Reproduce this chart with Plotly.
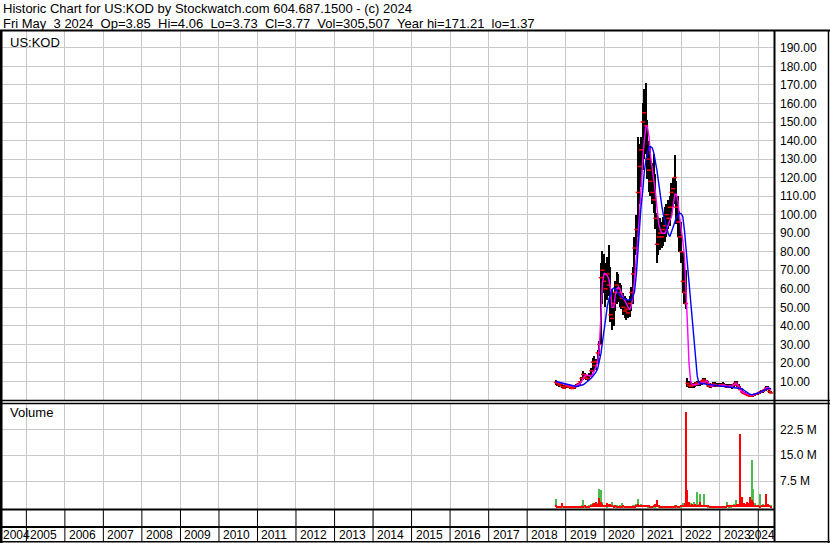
import pandas as pd
import plotly.graph_objects as go

# ---------------- data (semi-monthly samples) ----------------
dates = [d.strftime("%Y-%m-%d") for d in pd.date_range("2018-10-01", "2024-05-01", freq="SMS")]

price_high = [
    10.8, 10.5, 9.8, 9.6, 9.2, 8.2, 8.4, 8.6, 8.4, 7.8, 7.6, 7.4,
    7.8, 8.4, 9.2, 10.4, 12.6, 15.4, 14.8, 13.6, 13.0, 14.6, 17.5, 22.8,
    23.5, 22.0, 27.0, 32.0, 74.0, 80.5, 79.0, 74.0, 77.0, 83.7, 72.0, 60.0,
    58.0, 64.0, 69.3, 68.0, 63.0, 62.0, 58.0, 56.0, 55.0, 54.0, 56.0, 61.0,
    72.0, 88.0, 100.0, 142.0, 138.0, 142.0, 160.0, 168.0, 171.2, 151.0, 140.0, 137.0,
    128.0, 133.0, 122.0, 101.0, 99.0, 98.0, 96.0, 99.0, 104.0, 106.0, 108.0, 110.0,
    117.0, 120.0, 132.0, 118.0, 110.0, 102.0, 96.0, 80.0, 74.0, 70.0, 12.0, 10.5,
    9.5, 9.0, 9.2, 9.8, 10.2, 9.8, 10.0, 11.0, 12.0, 11.8, 11.0, 10.0,
    9.2, 8.8, 9.6, 9.8, 9.4, 9.0, 9.2, 9.4, 9.6, 9.0, 8.6, 8.4,
    8.6, 8.8, 8.6, 9.4, 10.2, 10.0, 8.6, 7.6, 6.0, 5.0, 4.4, 4.0,
    3.6, 3.2, 3.0, 3.4, 3.8, 4.0, 4.2, 4.6, 5.2, 5.6, 6.2, 7.4,
    7.6, 6.0, 4.8,
]
price_low = [
    8.2, 7.8, 7.2, 7.4, 6.6, 5.8, 6.0, 6.6, 6.6, 6.2, 5.8, 5.9,
    6.2, 6.8, 7.2, 8.0, 9.2, 11.0, 11.2, 10.6, 10.2, 11.0, 12.6, 15.2,
    15.8, 16.4, 19.6, 24.0, 30.0, 52.0, 58.0, 50.0, 54.0, 56.0, 42.0, 38.0,
    40.0, 48.0, 52.0, 53.0, 50.0, 49.0, 46.0, 44.0, 43.0, 44.0, 45.0, 48.0,
    52.0, 64.0, 78.0, 88.0, 106.0, 115.0, 124.0, 130.0, 133.0, 119.0, 112.0, 110.0,
    106.0, 101.0, 92.0, 74.0, 78.0, 81.0, 82.0, 83.0, 85.0, 88.0, 92.0, 94.0,
    98.0, 104.0, 106.0, 95.0, 88.0, 80.0, 74.0, 58.0, 52.0, 49.0, 7.0, 6.4,
    6.5, 6.4, 6.6, 7.0, 7.4, 7.6, 7.8, 8.2, 8.6, 8.8, 8.0, 7.0,
    6.6, 6.6, 7.0, 7.2, 7.0, 6.8, 7.0, 7.2, 7.2, 7.0, 6.6, 6.4,
    6.6, 6.6, 6.2, 6.6, 7.6, 7.2, 6.4, 5.2, 3.8, 3.2, 2.8, 2.4,
    2.0, 1.6, 1.4, 1.8, 2.2, 2.6, 2.8, 3.2, 3.6, 4.0, 4.4, 5.0,
    5.2, 4.0, 3.6,
]
price_close = [
    9.5, 8.8, 8.0, 8.6, 7.2, 6.4, 7.6, 7.4, 7.0, 6.8, 6.2, 6.6,
    7.2, 7.8, 8.6, 9.8, 11.6, 13.8, 12.4, 11.8, 11.4, 13.2, 15.8, 20.4,
    18.6, 20.8, 25.4, 30.0, 66.0, 70.0, 64.0, 60.0, 68.0, 62.0, 46.0, 44.0,
    52.0, 58.0, 62.0, 60.0, 58.0, 55.0, 50.0, 48.0, 49.0, 47.0, 52.0, 58.0,
    68.0, 82.0, 92.0, 112.0, 126.0, 135.0, 150.0, 155.0, 148.0, 130.0, 124.0, 118.0,
    112.0, 108.0, 98.0, 84.0, 88.0, 90.0, 88.0, 92.0, 94.0, 100.0, 98.0, 104.0,
    112.0, 114.0, 120.0, 104.0, 96.0, 88.0, 80.0, 64.0, 58.0, 52.0, 9.0, 8.0,
    7.4, 7.8, 8.2, 8.6, 9.2, 8.8, 9.4, 10.2, 10.8, 10.0, 9.0, 7.6,
    7.2, 7.8, 8.6, 8.2, 7.8, 7.6, 8.0, 8.2, 8.4, 7.6, 7.2, 7.0,
    7.4, 7.2, 6.8, 8.4, 9.2, 8.0, 7.0, 5.6, 4.4, 3.6, 3.2, 2.8,
    2.4, 2.0, 2.2, 2.6, 3.2, 3.4, 3.6, 4.2, 4.6, 5.0, 5.6, 6.4,
    5.8, 4.6, 3.8,
]
ma_short = [
    10.0, 9.8, 9.4, 9.2, 9.0, 8.8, 8.6, 8.2, 7.9, 7.6, 7.4, 7.3,
    7.5, 8.0, 8.4, 8.8, 10.0, 11.5, 13.0, 13.6, 13.2, 12.8, 12.7, 14.2,
    16.0, 17.6, 21.0, 28.0, 45.0, 63.0, 68.5, 68.0, 67.0, 65.0, 60.0, 50.0,
    50.0, 56.5, 60.0, 61.0, 59.5, 57.0, 55.0, 53.0, 51.0, 50.0, 48.8, 51.0,
    56.0, 65.0, 75.0, 87.0, 100.0, 115.0, 130.0, 140.0, 148.0, 147.0, 142.0, 132.0,
    125.0, 118.0, 112.0, 104.0, 95.0, 92.0, 90.0, 90.0, 90.0, 92.0, 95.5, 97.0,
    99.0, 104.0, 111.0, 111.0, 107.0, 99.0, 93.0, 86.0, 77.0, 61.0, 40.0, 20.0,
    9.5, 8.4, 8.2, 8.2, 8.4, 8.6, 8.8, 9.0, 9.3, 9.8, 10.3, 9.2,
    7.8, 7.3, 7.8, 8.0, 7.9, 7.8, 7.9, 8.1, 8.2, 8.0, 7.6, 7.4,
    7.5, 7.6, 7.5, 8.2, 9.0, 8.6, 7.2, 5.8, 4.5, 4.0, 3.6, 3.2,
    2.9, 2.6, 2.5, 2.8, 3.1, 3.4, 3.7, 4.0, 4.3, 4.6, 5.4, 6.5,
    6.8, 6.0, 5.2,
]
ma_long = [
    10.0, 9.8, 9.5, 9.2, 8.9, 8.6, 8.3, 8.1, 7.9, 7.7, 7.6, 7.5,
    7.4, 7.3, 7.5, 7.7, 8.0, 8.2, 8.8, 9.4, 10.0, 10.8, 11.8, 12.8,
    14.0, 15.0, 17.0, 20.0, 25.0, 31.0, 38.0, 45.0, 51.0, 54.5, 57.0, 59.5,
    60.4, 60.0, 59.3, 57.5, 56.0, 55.4, 55.0, 54.4, 54.0, 54.0, 54.0, 54.0,
    56.0, 58.5, 68.0, 81.0, 94.0, 104.0, 113.0, 123.0, 130.0, 134.0, 136.5, 136.8,
    136.0, 133.5, 129.0, 124.0, 117.0, 110.0, 104.5, 100.0, 96.0, 91.8, 89.5, 88.2,
    90.5, 93.4, 96.0, 98.6, 100.0, 100.8, 100.5, 99.0, 91.0, 82.0, 71.0, 61.0,
    53.0, 43.0, 32.0, 22.0, 13.0, 9.5, 9.0, 8.8, 8.7, 8.6, 8.6, 8.5,
    8.4, 8.4, 8.3, 8.2, 8.2, 8.0, 7.9, 7.8, 7.6, 7.5, 7.4, 7.3,
    7.2, 7.0, 6.9, 6.8, 6.7, 6.6, 6.5, 6.4, 6.1, 5.4, 4.7, 4.2,
    3.6, 3.1, 2.8, 2.9, 3.2, 3.5, 3.7, 4.2, 4.7, 5.1, 5.5, 5.8,
    6.1, 6.4, 6.0,
]
# volume in millions of shares
vol_up = [
    2.4, 0.5, 0.3, 0.3, 0.3, 0.3, 0.3, 0.3, 0.3, 0.3, 0.3, 0.3,
    0.2, 0.3, 0.4, 0.5, 0.6, 2.2, 0.5, 0.4, 0.5, 0.6, 1.0, 1.2,
    1.0, 0.9, 1.2, 5.3, 5.0, 1.5, 0.8, 0.6, 0.5, 0.7, 0.8, 1.5,
    0.6, 0.5, 0.6, 0.5, 0.6, 1.3, 0.5, 0.4, 0.5, 0.4, 0.5, 0.4,
    0.6, 0.8, 1.0, 2.4, 0.8, 1.0, 0.6, 0.7, 0.6, 0.5, 0.5, 0.4,
    0.5, 0.4, 0.5, 0.6, 0.5, 0.4, 0.5, 0.4, 0.4, 0.4, 0.3, 0.4,
    0.4, 0.4, 0.6, 0.4, 0.3, 0.3, 0.5, 1.3, 0.8, 4.1, 1.5, 1.5,
    1.2, 0.8, 1.5, 1.0, 4.5, 1.0, 3.9, 0.8, 3.9, 0.6, 0.6, 0.5,
    0.5, 0.4, 0.5, 0.4, 0.4, 0.3, 0.4, 0.4, 0.3, 0.3, 0.4, 1.5,
    0.5, 0.5, 0.6, 1.0, 2.2, 0.7, 0.6, 1.2, 0.8, 0.6, 0.6, 0.8,
    1.0, 2.5, 13.5, 5.3, 1.2, 0.8, 0.6, 3.7, 0.6, 1.0, 0.8, 0.9,
    0.7, 0.8, 0.6,
]
vol_down = [
    0.6, 0.4, 0.4, 0.4, 1.1, 0.4, 0.3, 0.3, 0.2, 0.3, 0.3, 0.2,
    0.3, 0.3, 0.3, 0.3, 0.4, 0.5, 0.6, 0.5, 0.4, 0.5, 0.8, 1.0,
    1.2, 1.4, 1.0, 2.6, 1.6, 0.9, 0.6, 0.7, 1.3, 0.9, 1.0, 0.8,
    0.5, 0.6, 0.4, 0.5, 0.5, 0.5, 0.6, 0.5, 0.4, 0.5, 0.4, 0.5,
    0.4, 0.5, 0.8, 0.9, 0.7, 0.6, 0.8, 0.6, 0.7, 0.8, 0.6, 0.5,
    0.5, 0.6, 0.9, 2.2, 0.8, 0.5, 0.4, 0.4, 0.4, 0.3, 0.4, 0.4,
    0.3, 0.4, 0.4, 0.6, 0.5, 0.4, 0.6, 0.8, 1.2, 27.5, 5.0, 1.4,
    0.8, 0.9, 0.7, 1.0, 0.8, 0.7, 1.5, 0.8, 0.7, 0.7, 0.8, 0.7,
    0.5, 0.4, 0.4, 0.5, 0.4, 0.4, 0.3, 0.3, 0.4, 0.3, 0.5, 0.6,
    0.7, 0.6, 0.8, 0.8, 0.7, 0.9, 1.0, 21.2, 3.0, 1.2, 1.0, 1.4,
    1.2, 3.0, 2.0, 1.5, 0.8, 0.7, 0.7, 0.5, 0.8, 0.8, 0.6, 3.7,
    1.0, 0.6, 0.5,
]

price_ticks = [10, 20, 30, 40, 50, 60, 70, 80, 90, 100, 110, 120, 130, 140, 150, 160, 170, 180, 190]
price_tick_text = [f"{v:.2f}" for v in price_ticks]
vol_ticks = [7.5, 15.0, 22.5]
vol_tick_text = ["7.5 M", "15.0 M", "22.5 M"]
year_starts = list(range(2005, 2025))

header1 = "Historic Chart for US:KOD by Stockwatch.com 604.687.1500 - (c) 2024"
header2 = "Fri May  3 2024  Op=3.85  Hi=4.06  Lo=3.73  Cl=3.77  Vol=305,507  Year hi=171.21  lo=1.37"

# ---------------- figure ----------------
W, H = 830, 543
FONT = "Liberation Sans, Arial, sans-serif"
DAY = 86400000


def py(p):
    return 1 - p / H


def px(p):
    return p / W


fig = go.Figure()

price_range = [h - l for h, l in zip(price_high, price_low)]
fig.add_trace(go.Bar(x=dates, y=price_range, base=price_low, width=14 * DAY,
                     marker=dict(color="black", line=dict(width=0)),
                     xaxis="x", yaxis="y", hoverinfo="skip"))
fig.add_trace(go.Scatter(x=dates, y=price_close, mode="markers",
                         marker=dict(symbol="line-ew", size=3, line=dict(color="#ff0000", width=1.5)),
                         xaxis="x", yaxis="y", hoverinfo="skip"))
fig.add_trace(go.Scatter(x=dates, y=ma_short, mode="lines",
                         line=dict(color="#ff00ff", width=1.4), xaxis="x", yaxis="y"))
fig.add_trace(go.Scatter(x=dates, y=ma_long, mode="lines",
                         line=dict(color="#0000ff", width=1.4), xaxis="x", yaxis="y"))

fig.add_trace(go.Bar(x=dates, y=vol_up, width=10 * DAY,
                     marker=dict(color="#4cbb4c", line=dict(width=0)), xaxis="x2", yaxis="y2"))
fig.add_trace(go.Bar(x=dates, y=vol_down, width=10 * DAY,
                     marker=dict(color="#ff0000", line=dict(width=0)), xaxis="x2", yaxis="y2"))

x_range = ["2004-05-15", "2024-05-29"]
grid = "#c8c8c8"
common_x = dict(type="date", range=x_range, domain=[px(2), px(774)], showgrid=True, gridcolor=grid,
                gridwidth=1, tick0="2005-01-01", dtick="M12", showticklabels=False, ticks="",
                zeroline=False, showline=False, fixedrange=True)

shapes = []
# header separator
shapes.append(dict(type="line", xref="paper", yref="paper", x0=0, x1=1, y0=py(30.5), y1=py(30.5),
                   line=dict(color="black", width=2)))
# left border
shapes.append(dict(type="line", xref="paper", yref="paper", x0=px(1), x1=px(1), y0=py(30), y1=py(543),
                   line=dict(color="black", width=3)))
# right border
shapes.append(dict(type="line", xref="paper", yref="paper", x0=px(828.5), x1=px(828.5), y0=py(30), y1=py(543),
                   line=dict(color="black", width=1.5)))
# plot / scale separator
shapes.append(dict(type="line", xref="paper", yref="paper", x0=px(774.5), x1=px(774.5), y0=py(30), y1=py(542),
                   line=dict(color="black", width=2)))
# price / volume double line
for yy in (400.5, 403.5):
    shapes.append(dict(type="line", xref="paper", yref="paper", x0=0, x1=1, y0=py(yy), y1=py(yy),
                       line=dict(color="black", width=1.5)))
# volume bottom, label row separator, bottom border
shapes.append(dict(type="line", xref="paper", yref="paper", x0=0, x1=px(774.5), y0=py(509.5), y1=py(509.5),
                   line=dict(color="black", width=2)))
shapes.append(dict(type="line", xref="paper", yref="paper", x0=0, x1=px(774.5), y0=py(527), y1=py(527),
                   line=dict(color="black", width=2)))
shapes.append(dict(type="line", xref="paper", yref="paper", x0=0, x1=1, y0=py(541.8), y1=py(541.8),
                   line=dict(color="black", width=1.5)))
# year separators in the label rows
for yr in year_starts:
    shapes.append(dict(type="line", xref="x", yref="paper", x0=f"{yr}-01-01", x1=f"{yr}-01-01",
                       y0=py(541.8), y1=py(509.5), line=dict(color="black", width=1)))

annotations = [
    dict(text=header1, xref="paper", yref="paper", x=px(1), y=py(9), xanchor="left", yanchor="middle",
         showarrow=False, font=dict(family=FONT, size=13, color="black")),
    dict(text=header2, xref="paper", yref="paper", x=px(1), y=py(23), xanchor="left", yanchor="middle",
         showarrow=False, font=dict(family=FONT, size=13, color="black")),
    dict(text="US:KOD", xref="paper", yref="paper", x=px(8), y=py(42), xanchor="left", yanchor="middle",
         showarrow=False, font=dict(family=FONT, size=13, color="black")),
    dict(text="Volume", xref="paper", yref="paper", x=px(8), y=py(413), xanchor="left", yanchor="middle",
         showarrow=False, font=dict(family=FONT, size=13, color="black")),
    dict(text="2004", xref="paper", yref="paper", x=px(1), y=py(535), xanchor="left", yanchor="middle",
         showarrow=False, font=dict(family=FONT, size=12, color="black")),
]
for yr in year_starts[:-1]:
    annotations.append(dict(text=str(yr), xref="x", yref="paper", x=f"{yr}-01-01", y=py(535),
                            xanchor="left", yanchor="middle", xshift=2, showarrow=False,
                            font=dict(family=FONT, size=12, color="black")))
annotations.append(dict(text="2024", xref="paper", yref="paper", x=px(777), y=py(535), xanchor="right",
                        yanchor="middle", showarrow=False, font=dict(family=FONT, size=12, color="black")))

fig.update_layout(
    width=W, height=H, margin=dict(l=0, r=0, t=0, b=0),
    paper_bgcolor="white", plot_bgcolor="white",
    showlegend=False, barmode="overlay", bargap=0,
    xaxis=dict(**common_x, anchor="y"),
    xaxis2=dict(**common_x, anchor="y2", matches="x"),
    yaxis=dict(domain=[py(400), py(31)], range=[0, 199.1], side="right", anchor="x",
               tickvals=price_ticks, ticktext=price_tick_text, showgrid=True, gridcolor=grid,
               ticks="", ticklabelstandoff=5, zeroline=False, showline=False, fixedrange=True,
               tickfont=dict(family=FONT, size=12, color="black")),
    yaxis2=dict(domain=[py(509), py(404)], range=[-0.5, 29.8], side="right", anchor="x2",
                tickvals=vol_ticks, ticktext=vol_tick_text, showgrid=True, gridcolor=grid,
                ticks="", ticklabelstandoff=5, zeroline=False, showline=False, fixedrange=True,
                tickfont=dict(family=FONT, size=12, color="black")),
    shapes=shapes, annotations=annotations,
)

fig.write_html("out.html", config={"displayModeBar": False},
               post_script="document.body.style.margin='0';document.body.style.padding='0';"
                           "document.body.style.overflow='hidden';")
